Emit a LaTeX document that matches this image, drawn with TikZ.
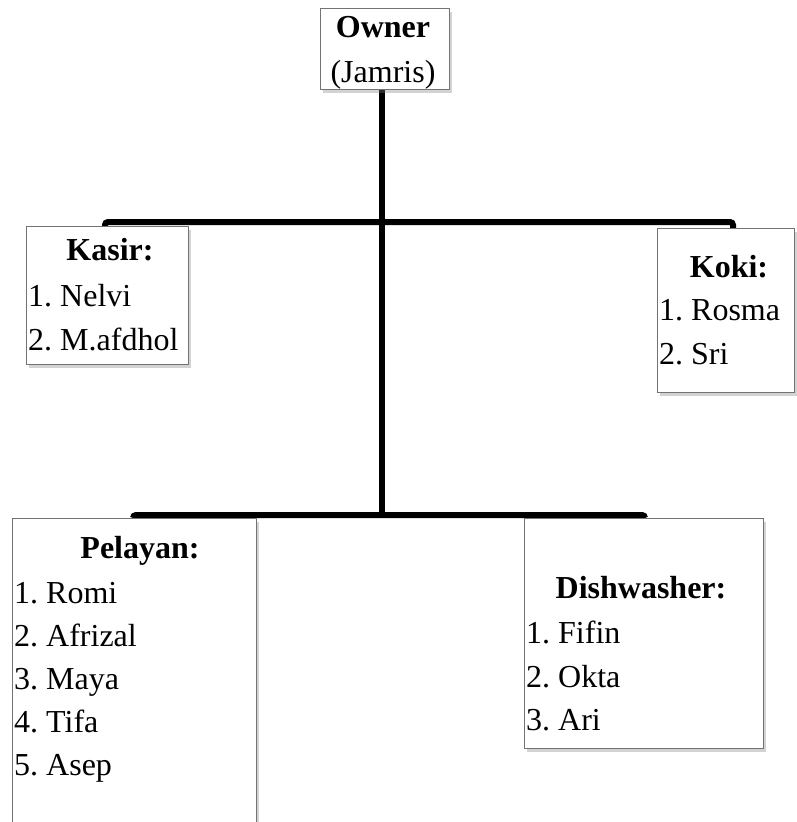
\documentclass[tikz,border=0pt]{standalone}
\usepackage{fontspec}
\setmainfont{Liberation Serif}
\usetikzlibrary{shadows}
\pgfdeclarelayer{bg}
\pgfsetlayers{bg,main}
\frenchspacing
\begin{document}
\begin{tikzpicture}[x=1pt,y=-1pt,
  box/.style={draw=black!55, line width=1.2pt, fill=white, anchor=north west, inner sep=0pt,
    drop shadow={shadow xshift=2pt, shadow yshift=-3pt, opacity=0.35}},
  conn/.style={line width=6pt, draw=black},
  txt/.style={font=\fontsize{32}{38}\selectfont, inner sep=0pt, anchor=base west},
  head/.style={font=\fontsize{32}{38}\selectfont\bfseries, inner sep=0pt, anchor=base}]
\useasboundingbox (0,0) rectangle (797,822);

% boxes
\node[box, minimum width=129pt, minimum height=81pt] (owner) at (320,8) {};
\node[box, minimum width=162pt, minimum height=138pt] (kasir) at (26,226) {};
\node[box, minimum width=137pt, minimum height=164pt] (koki) at (657,228) {};
\node[box, minimum width=244pt, minimum height=330pt] (pelayan) at (12,518) {};
\node[box, minimum width=239pt, minimum height=230pt] (dish) at (524,518) {};

% junction coordinates
\coordinate (j2) at (382,515);
\coordinate (a1) at (105,222);
\coordinate (a2) at (733,222);
\coordinate (b1) at (133,515);
\coordinate (b2) at (645,515);

\begin{pgfonlayer}{bg}
\draw[conn] (j2 |- owner.south) -- (j2);
\draw[conn, rounded corners=3pt] (a1 |- kasir.north) -- (a1) -- (a2) -- (a2 |- koki.north);
\draw[conn, rounded corners=3pt] (b1 |- pelayan.north) -- (b1) -- (b2) -- (b2 |- dish.north);
\end{pgfonlayer}

% texts
\node[head] (t-owner) at (383,37) {Owner};
\node[txt, anchor=base] (t-jamris) at (383,82) {(Jamris)};

\node[head] (t-kasir) at (110,260) {Kasir:};
\node[txt] (k1) at (28,306) {1. Nelvi};
\node[txt] (k2) at (28,350) {2. M.afdhol};

\node[head] (t-koki) at (729,277) {Koki:};
\node[txt] (o1) at (659,320) {1. Rosma};
\node[txt] (o2) at (659,364) {2. Sri};

\node[head] (t-pel) at (140,558) {Pelayan:};
\node[txt] (p1) at (14,603) {1. Romi};
\node[txt] (p2) at (14,646) {2. Afrizal};
\node[txt] (p3) at (14,689) {3. Maya};
\node[txt] (p4) at (14,732) {4. Tifa};
\node[txt] (p5) at (14,775) {5. Asep};

\node[head] (t-dish) at (641,598) {Dishwasher:};
\node[txt] (d1) at (526,643) {1. Fifin};
\node[txt] (d2) at (526,687) {2. Okta};
\node[txt] (d3) at (526,730) {3. Ari};
\end{tikzpicture}
\end{document}
